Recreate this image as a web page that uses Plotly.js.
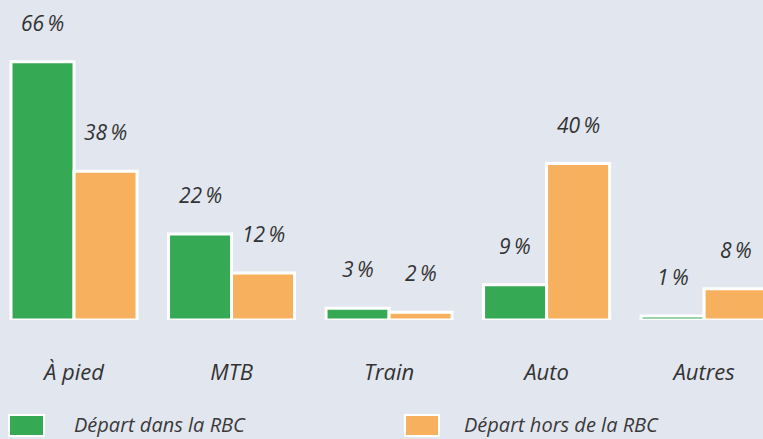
<!DOCTYPE html>
<html>
<head>
<meta charset="utf-8">
<script src="https://cdn.plot.ly/plotly-3.0.1.min.js"></script>
<style>html,body{margin:0;padding:0;background:#e2e6ef;}#chart{width:763px;height:439px;}</style>
</head>
<body>
<div id="chart"></div>
<script>
var categories = ["À pied", "MTB", "Train", "Auto", "Autres"];
var seriesNames = ["Départ dans la RBC", "Départ hors de la RBC"];
var valuesInside = [66, 22, 3, 9, 1];
var valuesOutside = [38, 12, 2, 40, 8];
var seriesColors = ["#36a954", "#f7b05d"];

var FONT = "Open Sans, sans-serif";
var TEXT = "#333333";
var series = [valuesInside, valuesOutside];

// plot area geometry (pixels) used only to place the hand-made legend
var PLOT_W = 763, PLOT_H = 320;
function px(x) { return x / PLOT_W; }
function py(y) { return (PLOT_H - y) / PLOT_H; }

var traces = series.map(function (vals, i) {
  return {
    type: "bar",
    name: seriesNames[i],
    x: categories,
    y: vals,
    marker: { color: seriesColors[i], line: { color: "#ffffff", width: 3 } },
    hoverinfo: "skip",
    showlegend: false
  };
});

var annotations = [];
series.forEach(function (vals, i) {
  vals.forEach(function (v, j) {
    annotations.push({
      x: categories[j], y: v, xref: "x", yref: "y",
      text: v + "\u2009%",
      showarrow: false,
      xshift: i === 0 ? -31.5 : 31.5,
      yshift: 39,
      font: { family: FONT, size: 21, color: TEXT, style: "italic" }
    });
  });
});

// legend (boxes + labels)
var legendBoxes = [[9, 44], [405, 439]];
var legendTextX = [72, 462];
var shapes = [];
seriesNames.forEach(function (name, i) {
  shapes.push({
    type: "rect", xref: "paper", yref: "paper",
    x0: px(legendBoxes[i][0]), x1: px(legendBoxes[i][1]),
    y0: py(415), y1: py(436),
    fillcolor: seriesColors[i],
    line: { color: "#ffffff", width: 2 }
  });
  annotations.push({
    xref: "paper", yref: "paper",
    x: px(legendTextX[i]), y: py(424),
    xanchor: "left", yanchor: "middle",
    text: name, showarrow: false,
    font: { family: FONT, size: 20, color: "#3a3a3a", style: "italic" }
  });
});

var layout = {
  width: 763, height: 439,
  margin: { l: 0, r: 0, t: 0, b: 119 },
  paper_bgcolor: "#e2e6ef",
  plot_bgcolor: "#e2e6ef",
  bargap: 0.2, bargroupgap: 0,
  barmode: "group",
  showlegend: false,
  xaxis: {
    type: "category",
    range: [-0.47, 4.374],
    showgrid: false, zeroline: false, showline: false, ticks: "",
    ticklabelstandoff: 37,
    tickfont: { family: FONT, size: 22, color: TEXT, style: "italic" }
  },
  yaxis: { range: [0, 81.8], visible: false, fixedrange: true },
  shapes: shapes,
  annotations: annotations
};

Plotly.newPlot("chart", traces, layout, { displayModeBar: false, staticPlot: true });
</script>
</body>
</html>
